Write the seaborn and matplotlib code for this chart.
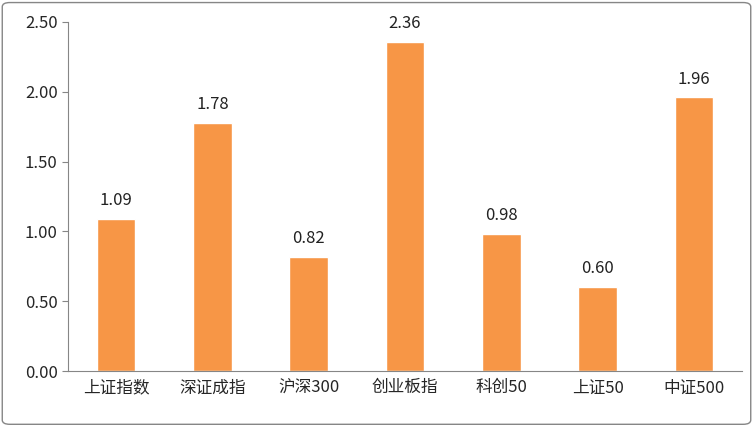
import matplotlib
matplotlib.use("Agg")
import matplotlib.pyplot as plt
import seaborn as sns
from matplotlib.patches import FancyBboxPatch

categories = ["上证指数", "深证成指", "沪深300", "创业板指", "科创50", "上证50", "中证500"]
values = [1.09, 1.78, 0.82, 2.36, 0.98, 0.60, 1.96]

sns.set_style("white")
plt.rcParams['font.family'] = ['Noto Sans CJK SC', 'DejaVu Sans']

fig = plt.figure(figsize=(7.53, 4.26), dpi=100)
ax = fig.add_axes([68/753, 1 - 371/426, (742-68)/753, (371-22)/426])

sns.barplot(x=categories, y=values, color="#F79646", saturation=1, width=0.4, ax=ax)

for i, v in enumerate(values):
    ax.text(i, v + 0.07, f"{v:.2f}", ha="center", va="bottom", fontsize=12, color="#222222")

ax.set_ylim(0, 2.5)
ax.set_yticks([0, 0.5, 1.0, 1.5, 2.0, 2.5])
ax.set_yticklabels([f"{t:.2f}" for t in ax.get_yticks()], fontsize=12)
ax.tick_params(axis="x", labelsize=12, length=0, pad=6)
ax.tick_params(axis="y", left=True, length=4, color="#868686")
for s in ["top", "right"]:
    ax.spines[s].set_visible(False)
for s in ["left", "bottom"]:
    ax.spines[s].set_color("#868686")
ax.set_xlabel("")
ax.set_ylabel("")

border = FancyBboxPatch((0.003, 0.004), 0.994, 0.99, boxstyle="round,pad=0,rounding_size=0.01",
                        transform=fig.transFigure, fill=False, edgecolor="#868686", linewidth=1)
fig.patches.append(border)

fig.savefig("out.png", dpi=100)
